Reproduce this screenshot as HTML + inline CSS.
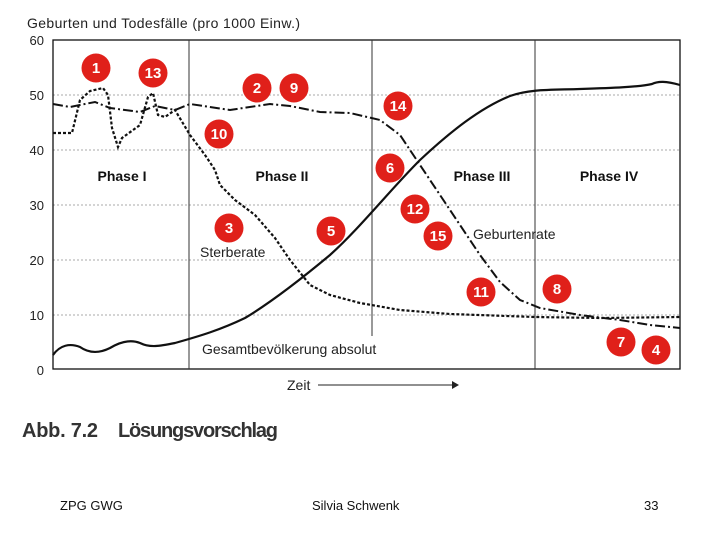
<!DOCTYPE html>
<html><head><meta charset="utf-8"><style>
body{margin:0;background:#fff;width:720px;height:540px;overflow:hidden}
svg{display:block;font-family:"Liberation Sans",sans-serif}
</style></head><body>
<svg width="720" height="540" viewBox="0 0 720 540">
<text x="27" y="28" font-size="14" fill="#222" textLength="273">Geburten und Todesfälle (pro 1000 Einw.)</text>
<g stroke="#aaa" stroke-width="1" stroke-dasharray="2,2">
<line x1="53" x2="680" y1="95" y2="95"/><line x1="53" x2="680" y1="150" y2="150"/>
<line x1="53" x2="680" y1="205" y2="205"/><line x1="53" x2="680" y1="260" y2="260"/>
<line x1="53" x2="680" y1="315" y2="315"/>
</g>
<rect x="53" y="40" width="627" height="329" fill="none" stroke="#111" stroke-width="1.3"/>
<line x1="189" y1="40" x2="189" y2="369" stroke="#333"/>
<line x1="535" y1="40" x2="535" y2="369" stroke="#333"/>
<line x1="372" y1="40" x2="372" y2="336" stroke="#333"/>
<g font-size="13" fill="#222" text-anchor="end">
<text x="44" y="45">60</text><text x="44" y="100">50</text><text x="44" y="155">40</text>
<text x="44" y="210">30</text><text x="44" y="265">20</text><text x="44" y="320">10</text><text x="44" y="375">0</text>
</g>
<g font-size="14" font-weight="bold" fill="#111" text-anchor="middle">
<text x="122" y="181">Phase I</text><text x="282" y="181">Phase II</text>
<text x="482" y="181">Phase III</text><text x="609" y="181">Phase IV</text>
</g>
<g font-size="14" fill="#222">
<text x="200" y="257">Sterberate</text>
<text x="473" y="239">Geburtenrate</text>
<text x="202" y="354">Gesamtbevölkerung absolut</text>
<text x="287" y="390">Zeit</text>
</g>
<line x1="318" y1="385" x2="452" y2="385" stroke="#222"/>
<polygon points="452,381 459,385 452,389" fill="#222"/>
<path d="M53,104 L70,107 L95,102 L110,108 L140,112 L155,106 L175,110 L190,104 L230,110 L270,104 L290,106 L320,112 L350,113 L380,120 L400,135 L420,165 L440,195 L460,225 L480,255 L500,282 L520,300 L540,308 L580,315 L620,320 L650,325 L680,328" fill="none" stroke="#111" stroke-width="2" stroke-dasharray="10,3,2,3"/>
<path d="M53,133 L72,133 L80,100 L90,91 L103,88 L108,95 L112,128 L118,147 L122,138 L140,125 L148,97 L153,93 L158,115 L165,117 L175,110 L190,135 L205,155 L215,170 L220,185 L235,200 L255,215 L275,238 L290,260 L310,285 L330,295 L360,303 L400,310 L450,314 L535,317 L600,318 L680,317" fill="none" stroke="#111" stroke-width="2.2" stroke-dasharray="3,2"/>
<path d="M53,355 C60,345 70,343 80,347 C90,354 100,353 110,348 C120,342 130,339 140,343 C150,348 160,346 175,343 C200,336 220,330 245,318 C270,303 300,280 330,255 C360,228 390,190 420,160 C450,132 480,108 510,96 C530,89 550,90 580,89 C610,88 640,87 652,84 C658,81 666,81 680,85" fill="none" stroke="#111" stroke-width="2.2"/>
<g fill="#e0201a">
<circle cx="96" cy="68" r="14.5"/><circle cx="153" cy="73" r="14.5"/><circle cx="257" cy="88" r="14.5"/>
<circle cx="294" cy="88" r="14.5"/><circle cx="398" cy="106" r="14.5"/><circle cx="219" cy="134" r="14.5"/>
<circle cx="390" cy="168" r="14.5"/><circle cx="415" cy="209" r="14.5"/><circle cx="438" cy="236" r="14.5"/>
<circle cx="229" cy="228" r="14.5"/><circle cx="331" cy="231" r="14.5"/><circle cx="481" cy="292" r="14.5"/>
<circle cx="557" cy="289" r="14.5"/><circle cx="621" cy="342" r="14.5"/><circle cx="656" cy="350" r="14.5"/>
</g>
<g font-size="15" font-weight="bold" fill="#fff" text-anchor="middle">
<text x="96" y="73">1</text><text x="153" y="78">13</text><text x="257" y="93">2</text>
<text x="294" y="93">9</text><text x="398" y="111">14</text><text x="219" y="139">10</text>
<text x="390" y="173">6</text><text x="415" y="214">12</text><text x="438" y="241">15</text>
<text x="229" y="233">3</text><text x="331" y="236">5</text><text x="481" y="297">11</text>
<text x="557" y="294">8</text><text x="621" y="347">7</text><text x="656" y="355">4</text>
</g>
<text x="22" y="437" font-size="20" font-weight="bold" fill="#333" textLength="76">Abb. 7.2</text>
<text x="118" y="437" font-size="20" font-weight="bold" fill="#333" textLength="160">Lösungsvorschlag</text>
<g font-size="13" fill="#111">
<text x="60" y="510">ZPG GWG</text><text x="312" y="510">Silvia Schwenk</text><text x="644" y="510">33</text>
</g>
</svg>
</body></html>
